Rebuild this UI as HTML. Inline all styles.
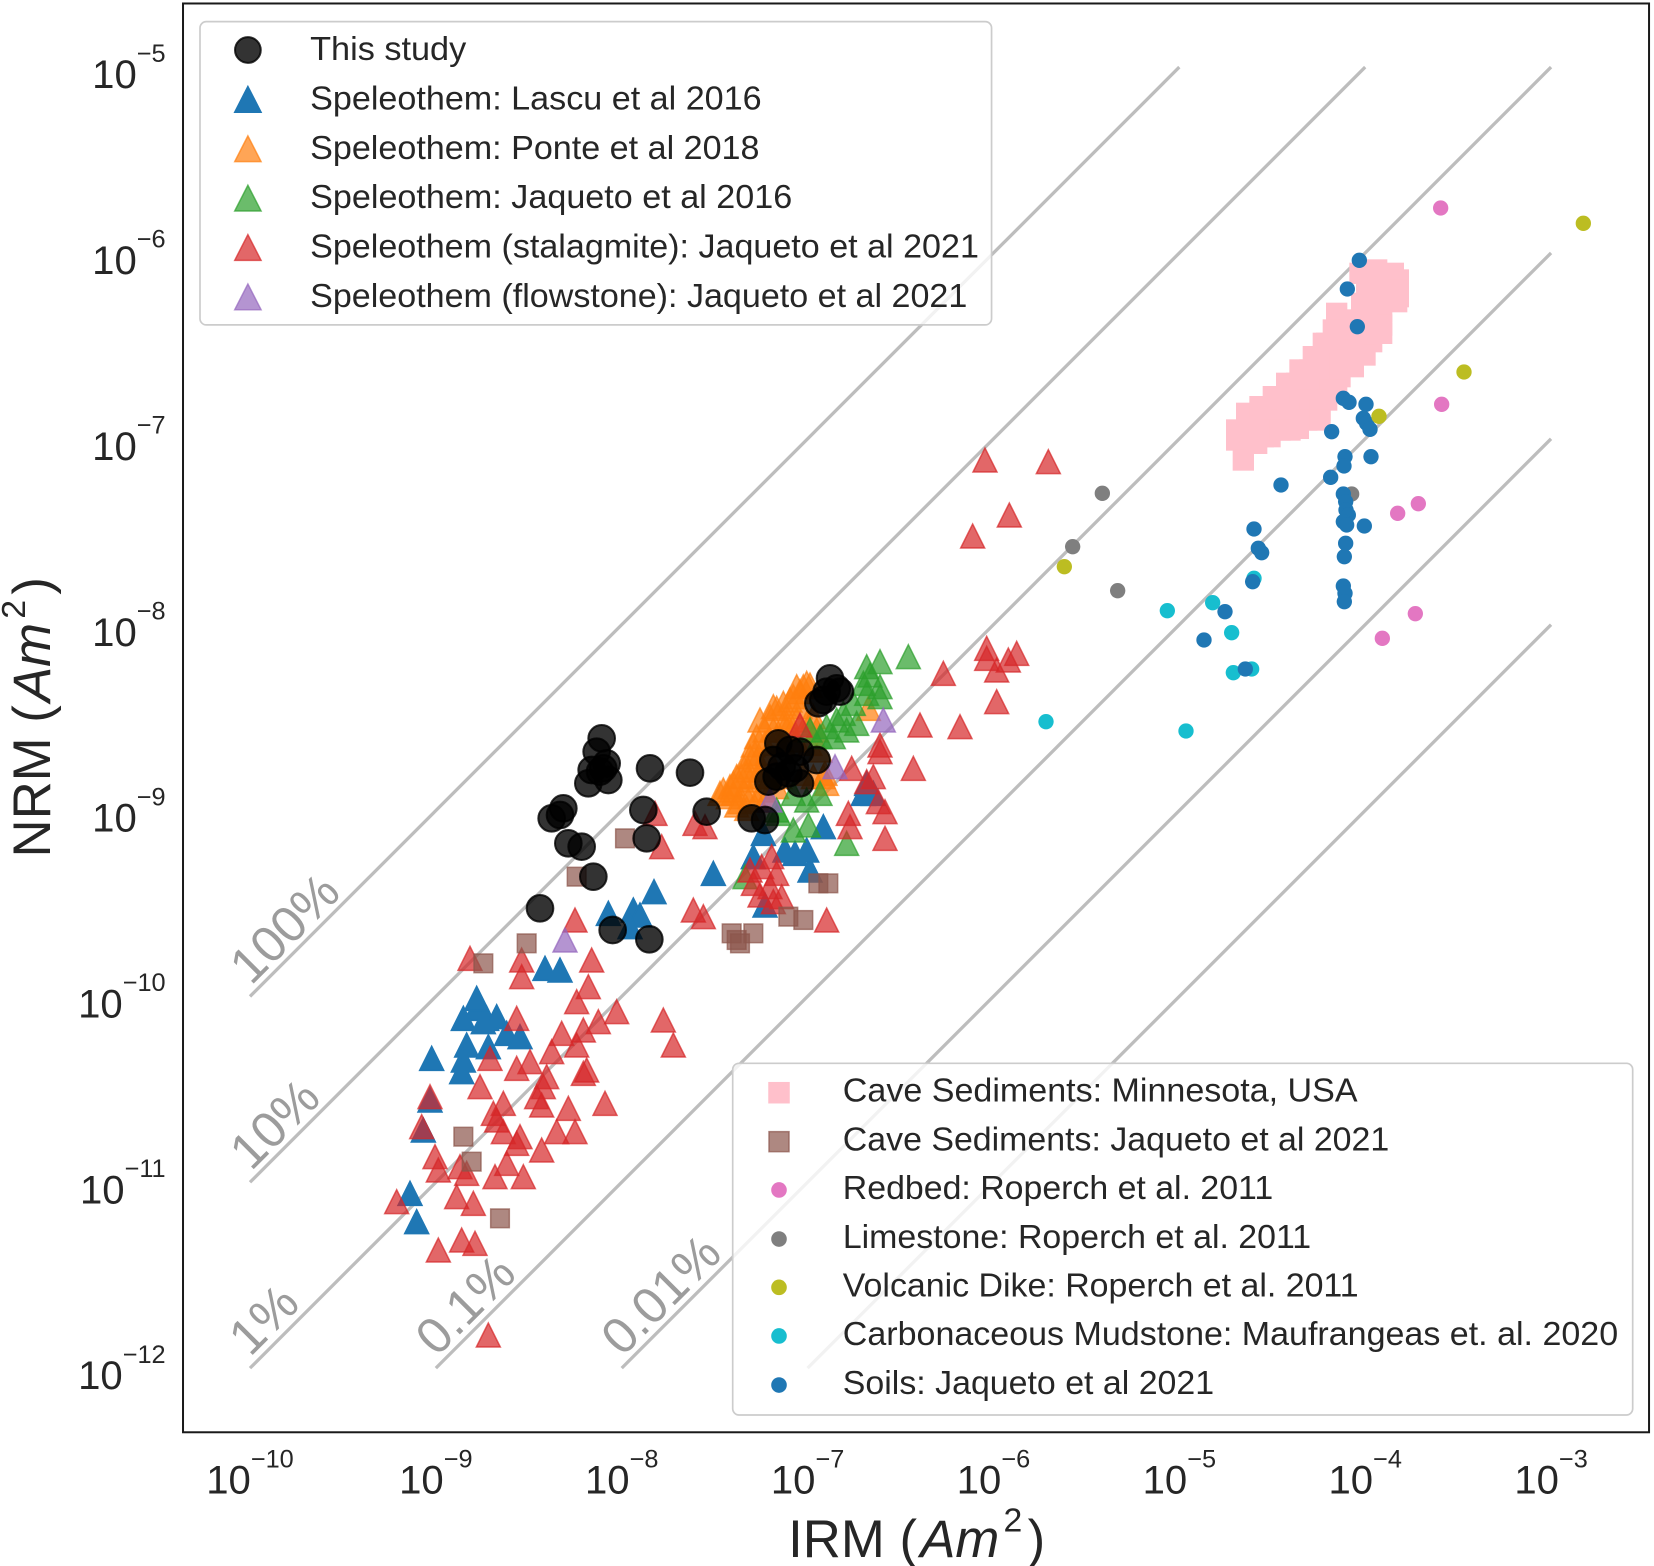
<!DOCTYPE html>
<html><head><meta charset="utf-8"><style>
html,body{margin:0;padding:0;background:#fff;}
svg{display:block;}
text{font-family:"Liberation Sans",Arial,sans-serif;fill:#262626;}
</style></head><body>
<svg width="1654" height="1566" viewBox="0 0 1654 1566" xmlns="http://www.w3.org/2000/svg">
<defs>
<path id="T" d="M0,-36L-36,36L36,36Z"/>
<circle id="C" r="40"/>
<rect id="S" x="-28" y="-28" width="56" height="56"/>
<rect id="P" x="-30" y="-30" width="60" height="60"/>
<circle id="D" r="23"/>
</defs>
<rect x="0" y="0" width="1654" height="1566" fill="#fff"/>

<g transform="scale(1.054847)">
<g stroke="#bdbdbd" stroke-width="3.1" fill="none">
<line x1="237" y1="944.6" x2="1118" y2="63.6"/>
<line x1="237" y1="1120.8" x2="1294.2" y2="63.6"/>
<line x1="237" y1="1297" x2="1470.4" y2="63.6"/>
<line x1="413.2" y1="1297" x2="1470.4" y2="239.8"/>
<line x1="589.4" y1="1297" x2="1470.4" y2="416"/>
<line x1="765.6" y1="1297" x2="1470.4" y2="592.2"/>
</g>
<g style="font-family:'Liberation Serif','DejaVu Serif',serif;font-size:48px;fill:#9c9c9c">
<text transform="translate(238,935) rotate(-45)" style="fill:#9c9c9c">100%</text>
<text transform="translate(238,1111) rotate(-45)" style="fill:#9c9c9c">10%</text>
<text transform="translate(237,1287) rotate(-45)" style="fill:#9c9c9c">1%</text>
<text transform="translate(414,1287) rotate(-45)" style="fill:#9c9c9c">0.1%</text>
<text transform="translate(590,1287) rotate(-45)" style="fill:#9c9c9c">0.01%</text>
</g>
</g>

<!-- Z4 group -->
<g transform="translate(370,980) scale(0.333333)">
<g fill="#1f77b4" stroke="#1f77b4" stroke-width="4.5">
<use href="#T" x="320" y="85"/><use href="#T" x="280" y="115"/><use href="#T" x="350" y="115"/><use href="#T" x="380" y="110"/><use href="#T" x="340" y="125"/><use href="#T" x="410" y="160"/><use href="#T" x="450" y="170"/><use href="#T" x="290" y="195"/><use href="#T" x="355" y="200"/><use href="#T" x="185" y="235"/><use href="#T" x="280" y="240"/><use href="#T" x="275" y="275"/><use href="#T" x="180" y="360"/><use href="#T" x="160" y="450"/><use href="#T" x="120" y="640"/><use href="#T" x="140" y="725"/>
</g>
<g fill="#d62728" stroke="#d62728" stroke-width="4.5" fill-opacity="0.7" stroke-opacity="0.7">
<use href="#T" x="620" y="65"/><use href="#T" x="740" y="95"/><use href="#T" x="685" y="125"/><use href="#T" x="880" y="120"/><use href="#T" x="910" y="195"/><use href="#T" x="440" y="115"/><use href="#T" x="575" y="160"/><use href="#T" x="640" y="150"/><use href="#T" x="620" y="195"/><use href="#T" x="545" y="215"/><use href="#T" x="360" y="235"/><use href="#T" x="480" y="245"/><use href="#T" x="440" y="265"/><use href="#T" x="530" y="290"/><use href="#T" x="640" y="280"/><use href="#T" x="650" y="270"/><use href="#T" x="330" y="320"/><use href="#T" x="520" y="320"/><use href="#T" x="500" y="350"/><use href="#T" x="515" y="375"/><use href="#T" x="595" y="385"/><use href="#T" x="705" y="370"/><use href="#T" x="180" y="350"/><use href="#T" x="155" y="440"/><use href="#T" x="400" y="370"/><use href="#T" x="370" y="400"/><use href="#T" x="380" y="420"/><use href="#T" x="560" y="455"/><use href="#T" x="615" y="455"/><use href="#T" x="400" y="455"/><use href="#T" x="450" y="470"/><use href="#T" x="440" y="490"/><use href="#T" x="515" y="510"/><use href="#T" x="195" y="530"/><use href="#T" x="205" y="570"/><use href="#T" x="270" y="560"/><use href="#T" x="290" y="580"/><use href="#T" x="410" y="550"/><use href="#T" x="375" y="590"/><use href="#T" x="460" y="590"/><use href="#T" x="260" y="650"/><use href="#T" x="310" y="670"/><use href="#T" x="80" y="665"/><use href="#T" x="275" y="780"/><use href="#T" x="315" y="790"/><use href="#T" x="205" y="810"/><use href="#T" x="355" y="1065"/>
</g>
<g fill="#8c564b" stroke="#8c564b" stroke-width="4.5" fill-opacity="0.7" stroke-opacity="0.7">
<use href="#S" x="280" y="470"/><use href="#S" x="305" y="545"/><use href="#S" x="390" y="715"/>
</g>
</g>

<!-- Z3 group -->
<g transform="translate(370,700) scale(0.333333)">
<g fill="#1f77b4" stroke="#1f77b4" stroke-width="4.5">
<use href="#T" x="852" y="575"/><use href="#T" x="715" y="640"/><use href="#T" x="790" y="630"/><use href="#T" x="810" y="645"/><use href="#T" x="780" y="680"/><use href="#T" x="525" y="805"/><use href="#T" x="570" y="810"/><use href="#T" x="320" y="895"/>
</g>
<g fill="#d62728" stroke="#d62728" stroke-width="4.5" fill-opacity="0.7" stroke-opacity="0.7">
<use href="#T" x="855" y="340"/><use href="#T" x="875" y="440"/><use href="#T" x="975" y="370"/><use href="#T" x="1005" y="380"/><use href="#T" x="970" y="630"/><use href="#T" x="1000" y="650"/><use href="#T" x="615" y="660"/><use href="#T" x="300" y="775"/><use href="#T" x="455" y="780"/><use href="#T" x="455" y="830"/><use href="#T" x="665" y="780"/><use href="#T" x="655" y="860"/>
</g>
<g fill="#9467bd" stroke="#9467bd" stroke-width="4.5" fill-opacity="0.7" stroke-opacity="0.7">
<use href="#T" x="585" y="720"/>
</g>
<g fill="#8c564b" stroke="#8c564b" stroke-width="4.5" fill-opacity="0.7" stroke-opacity="0.7">
<use href="#S" x="765" y="415"/><use href="#S" x="620" y="530"/><use href="#S" x="470" y="730"/><use href="#S" x="340" y="790"/>
</g>
</g>

<!-- Z5 group -->
<g transform="translate(700,620) scale(0.333333)">
<g fill="#1f77b4" stroke="#1f77b4" stroke-width="4.5">
<use href="#T" x="370" y="620"/><use href="#T" x="330" y="750"/><use href="#T" x="255" y="690"/><use href="#T" x="320" y="690"/><use href="#T" x="190" y="640"/><use href="#T" x="160" y="710"/><use href="#T" x="40" y="760"/><use href="#T" x="195" y="855"/><use href="#T" x="500" y="490"/><use href="#T" x="520" y="520"/><use href="#T" x="490" y="520"/><use href="#T" x="285" y="700"/>
</g>
<g fill="#ff7f0e" stroke="#ff7f0e" stroke-width="4.5" fill-opacity="0.7" stroke-opacity="0.7">
<use href="#T" x="310" y="200"/><use href="#T" x="330" y="195"/><use href="#T" x="300" y="215"/><use href="#T" x="270" y="240"/><use href="#T" x="230" y="265"/><use href="#T" x="210" y="290"/><use href="#T" x="260" y="290"/><use href="#T" x="300" y="260"/><use href="#T" x="340" y="290"/><use href="#T" x="505" y="265"/><use href="#T" x="220" y="330"/><use href="#T" x="260" y="330"/><use href="#T" x="160" y="375"/><use href="#T" x="150" y="410"/><use href="#T" x="130" y="440"/><use href="#T" x="110" y="470"/><use href="#T" x="90" y="500"/><use href="#T" x="70" y="510"/><use href="#T" x="100" y="520"/><use href="#T" x="130" y="510"/><use href="#T" x="150" y="480"/><use href="#T" x="180" y="450"/><use href="#T" x="170" y="420"/><use href="#T" x="200" y="400"/><use href="#T" x="250" y="370"/><use href="#T" x="290" y="360"/><use href="#T" x="330" y="370"/><use href="#T" x="370" y="470"/><use href="#T" x="360" y="390"/><use href="#T" x="120" y="545"/><use href="#T" x="150" y="530"/><use href="#T" x="190" y="510"/><use href="#T" x="175" y="470"/><use href="#T" x="210" y="470"/><use href="#T" x="240" y="470"/><use href="#T" x="60" y="520"/><use href="#T" x="85" y="530"/><use href="#T" x="110" y="555"/><use href="#T" x="140" y="565"/><use href="#T" x="170" y="540"/><use href="#T" x="200" y="530"/><use href="#T" x="230" y="500"/><use href="#T" x="100" y="490"/><use href="#T" x="125" y="470"/><use href="#T" x="145" y="450"/><use href="#T" x="165" y="400"/><use href="#T" x="195" y="370"/><use href="#T" x="230" y="350"/><use href="#T" x="260" y="310"/><use href="#T" x="290" y="300"/><use href="#T" x="320" y="310"/><use href="#T" x="350" y="330"/><use href="#T" x="375" y="460"/><use href="#T" x="380" y="490"/><use href="#T" x="310" y="460"/><use href="#T" x="340" y="470"/><use href="#T" x="220" y="260"/><use href="#T" x="250" y="250"/><use href="#T" x="280" y="230"/><use href="#T" x="290" y="200"/><use href="#T" x="320" y="190"/><use href="#T" x="180" y="300"/><use href="#T" x="195" y="330"/><use href="#T" x="170" y="350"/>
</g>
<g fill="#2ca02c" stroke="#2ca02c" stroke-width="4.5" fill-opacity="0.7" stroke-opacity="0.7">
<use href="#T" x="625" y="110"/><use href="#T" x="540" y="125"/><use href="#T" x="500" y="140"/><use href="#T" x="510" y="165"/><use href="#T" x="540" y="200"/><use href="#T" x="490" y="190"/><use href="#T" x="540" y="230"/><use href="#T" x="500" y="220"/><use href="#T" x="460" y="250"/><use href="#T" x="430" y="280"/><use href="#T" x="470" y="310"/><use href="#T" x="410" y="300"/><use href="#T" x="380" y="320"/><use href="#T" x="440" y="330"/><use href="#T" x="360" y="350"/><use href="#T" x="330" y="330"/><use href="#T" x="400" y="350"/><use href="#T" x="360" y="520"/><use href="#T" x="320" y="540"/><use href="#T" x="280" y="520"/><use href="#T" x="230" y="570"/><use href="#T" x="325" y="615"/><use href="#T" x="280" y="630"/><use href="#T" x="440" y="670"/><use href="#T" x="135" y="770"/><use href="#T" x="235" y="580"/>
</g>
<g fill="#d62728" stroke="#d62728" stroke-width="4.5" fill-opacity="0.7" stroke-opacity="0.7">
<use href="#T" x="860" y="85"/><use href="#T" x="950" y="100"/><use href="#T" x="925" y="120"/><use href="#T" x="860" y="115"/><use href="#T" x="890" y="150"/><use href="#T" x="890" y="245"/><use href="#T" x="730" y="160"/><use href="#T" x="660" y="315"/><use href="#T" x="780" y="320"/><use href="#T" x="540" y="375"/><use href="#T" x="540" y="395"/><use href="#T" x="640" y="445"/><use href="#T" x="455" y="445"/><use href="#T" x="520" y="470"/><use href="#T" x="500" y="485"/><use href="#T" x="535" y="545"/><use href="#T" x="555" y="575"/><use href="#T" x="445" y="580"/><use href="#T" x="450" y="620"/><use href="#T" x="555" y="655"/><use href="#T" x="300" y="315"/><use href="#T" x="215" y="710"/><use href="#T" x="185" y="740"/><use href="#T" x="230" y="760"/><use href="#T" x="150" y="750"/><use href="#T" x="160" y="790"/><use href="#T" x="210" y="800"/><use href="#T" x="180" y="825"/><use href="#T" x="245" y="830"/><use href="#T" x="220" y="845"/><use href="#T" x="380" y="900"/>
</g>
<g fill="#9467bd" stroke="#9467bd" stroke-width="4.5" fill-opacity="0.7" stroke-opacity="0.7">
<use href="#T" x="550" y="300"/><use href="#T" x="405" y="440"/><use href="#T" x="210" y="540"/>
</g>
<g fill="#8c564b" stroke="#8c564b" stroke-width="4.5" fill-opacity="0.7" stroke-opacity="0.7">
<use href="#S" x="355" y="790"/><use href="#S" x="385" y="790"/><use href="#S" x="265" y="890"/><use href="#S" x="310" y="900"/><use href="#S" x="95" y="940"/><use href="#S" x="160" y="940"/><use href="#S" x="120" y="970"/><use href="#S" x="110" y="960"/>
</g>
<g fill="#17becf"><use href="#D" x="1038" y="305"/></g>
</g>

<!-- Z9 group -->
<g transform="translate(950,430) scale(0.333333)">
<g fill="#d62728" stroke="#d62728" stroke-width="4.5" fill-opacity="0.7" stroke-opacity="0.7">
<use href="#T" x="105" y="90"/><use href="#T" x="295" y="95"/><use href="#T" x="178" y="255"/><use href="#T" x="68" y="318"/>
</g>
<g fill="#7f7f7f"><use href="#D" x="457" y="190"/><use href="#D" x="368" y="350"/><use href="#D" x="503" y="482"/></g>
<g fill="#bcbd22"><use href="#D" x="343" y="410"/></g>
<g fill="#17becf"><use href="#D" x="652" y="542"/><use href="#D" x="708" y="903"/><use href="#D" x="850" y="728"/><use href="#D" x="905" y="717"/></g>
<g fill="#1f77b4"><use href="#D" x="886" y="717"/></g>
</g>

<!-- Z6 group -->
<g transform="translate(1180,190) scale(0.333333)">
<g fill="#ffc0cb" stroke="#ffc0cb" stroke-width="4">
<use href="#P" x="560" y="260"/><use href="#P" x="600" y="260"/><use href="#P" x="650" y="280"/><use href="#P" x="655" y="320"/><use href="#P" x="610" y="300"/><use href="#P" x="560" y="300"/><use href="#P" x="600" y="340"/><use href="#P" x="545" y="340"/><use href="#P" x="470" y="370"/><use href="#P" x="500" y="400"/><use href="#P" x="460" y="420"/><use href="#P" x="600" y="420"/><use href="#P" x="560" y="420"/><use href="#P" x="520" y="440"/><use href="#P" x="430" y="460"/><use href="#P" x="480" y="470"/><use href="#P" x="540" y="470"/><use href="#P" x="420" y="500"/><use href="#P" x="460" y="520"/><use href="#P" x="500" y="510"/><use href="#P" x="390" y="540"/><use href="#P" x="440" y="560"/><use href="#P" x="480" y="560"/><use href="#P" x="350" y="580"/><use href="#P" x="400" y="590"/><use href="#P" x="450" y="600"/><use href="#P" x="310" y="620"/><use href="#P" x="360" y="630"/><use href="#P" x="410" y="640"/><use href="#P" x="290" y="660"/><use href="#P" x="340" y="670"/><use href="#P" x="390" y="670"/><use href="#P" x="260" y="690"/><use href="#P" x="310" y="700"/><use href="#P" x="350" y="710"/><use href="#P" x="240" y="720"/><use href="#P" x="210" y="700"/><use href="#P" x="270" y="740"/><use href="#P" x="170" y="750"/><use href="#P" x="210" y="730"/><use href="#P" x="250" y="740"/><use href="#P" x="190" y="810"/><use href="#P" x="330" y="720"/><use href="#P" x="380" y="690"/><use href="#P" x="420" y="660"/><use href="#P" x="440" y="630"/><use href="#P" x="600" y="380"/><use href="#P" x="640" y="250"/>
<use href="#P" x="540" y="250"/><use href="#P" x="655" y="270"/><use href="#P" x="655" y="300"/><use href="#P" x="650" y="335"/><use href="#P" x="605" y="365"/><use href="#P" x="605" y="405"/><use href="#P" x="605" y="430"/><use href="#P" x="575" y="455"/><use href="#P" x="555" y="495"/><use href="#P" x="520" y="530"/><use href="#P" x="470" y="600"/><use href="#P" x="420" y="690"/><use href="#P" x="355" y="715"/><use href="#P" x="300" y="720"/><use href="#P" x="230" y="760"/><use href="#P" x="170" y="720"/><use href="#P" x="200" y="670"/><use href="#P" x="240" y="650"/><use href="#P" x="280" y="620"/><use href="#P" x="320" y="580"/><use href="#P" x="360" y="540"/><use href="#P" x="400" y="500"/><use href="#P" x="440" y="460"/><use href="#P" x="490" y="430"/><use href="#P" x="520" y="390"/><use href="#P" x="590" y="240"/><use href="#P" x="560" y="380"/><use href="#P" x="520" y="480"/><use href="#P" x="480" y="520"/>
</g>
<g fill="#7f7f7f"><use href="#D" x="515" y="912"/></g>
<g fill="#17becf"><use href="#D" x="222" y="1165"/><use href="#D" x="98" y="1238"/><use href="#D" x="155" y="1328"/></g>
<g fill="#1f77b4">
<use href="#D" x="538" y="211"/><use href="#D" x="502" y="297"/><use href="#D" x="532" y="410"/><use href="#D" x="490" y="625"/><use href="#D" x="507" y="637"/><use href="#D" x="558" y="643"/><use href="#D" x="550" y="685"/><use href="#D" x="560" y="700"/><use href="#D" x="570" y="718"/><use href="#D" x="455" y="725"/><use href="#D" x="495" y="800"/><use href="#D" x="492" y="828"/><use href="#D" x="573" y="800"/><use href="#D" x="452" y="862"/><use href="#D" x="303" y="885"/><use href="#D" x="490" y="912"/><use href="#D" x="497" y="935"/><use href="#D" x="498" y="960"/><use href="#D" x="505" y="975"/><use href="#D" x="490" y="995"/><use href="#D" x="500" y="1005"/><use href="#D" x="553" y="1008"/><use href="#D" x="497" y="1060"/><use href="#D" x="493" y="1100"/><use href="#D" x="222" y="1017"/><use href="#D" x="235" y="1075"/><use href="#D" x="245" y="1088"/><use href="#D" x="218" y="1175"/><use href="#D" x="490" y="1188"/><use href="#D" x="495" y="1210"/><use href="#D" x="493" y="1235"/><use href="#D" x="135" y="1265"/><use href="#D" x="72" y="1350"/>
</g>
<g fill="#e377c2"><use href="#D" x="782" y="54"/><use href="#D" x="785" y="643"/><use href="#D" x="715" y="941"/><use href="#D" x="653" y="970"/><use href="#D" x="706" y="1271"/><use href="#D" x="607" y="1345"/></g>
<g fill="#bcbd22"><use href="#D" x="1210" y="100"/><use href="#D" x="852" y="546"/><use href="#D" x="597" y="679"/></g>
</g>

<!-- black circles on top -->
<g transform="translate(370,700) scale(0.333333)" fill="#000" fill-opacity="0.8" stroke="#000" stroke-opacity="0.8" stroke-width="6">
<use href="#C" x="695" y="115"/><use href="#C" x="680" y="155"/><use href="#C" x="710" y="190"/><use href="#C" x="665" y="210"/><use href="#C" x="690" y="215"/><use href="#C" x="655" y="250"/><use href="#C" x="715" y="240"/><use href="#C" x="700" y="205"/><use href="#C" x="840" y="205"/><use href="#C" x="960" y="218"/><use href="#C" x="580" y="325"/><use href="#C" x="545" y="355"/><use href="#C" x="570" y="345"/><use href="#C" x="820" y="330"/><use href="#C" x="1010" y="335"/><use href="#C" x="595" y="430"/><use href="#C" x="635" y="440"/><use href="#C" x="830" y="415"/><use href="#C" x="670" y="530"/><use href="#C" x="510" y="625"/><use href="#C" x="728" y="690"/><use href="#C" x="838" y="718"/>
</g>
<g transform="translate(700,620) scale(0.333333)" fill="#000" fill-opacity="0.8" stroke="#000" stroke-opacity="0.8" stroke-width="6">
<use href="#C" x="390" y="175"/><use href="#C" x="410" y="205"/><use href="#C" x="380" y="215"/><use href="#C" x="420" y="215"/><use href="#C" x="355" y="250"/><use href="#C" x="370" y="240"/><use href="#C" x="235" y="370"/><use href="#C" x="270" y="390"/><use href="#C" x="300" y="395"/><use href="#C" x="350" y="420"/><use href="#C" x="220" y="420"/><use href="#C" x="245" y="440"/><use href="#C" x="285" y="445"/><use href="#C" x="205" y="485"/><use href="#C" x="230" y="470"/><use href="#C" x="300" y="490"/><use href="#C" x="265" y="460"/><use href="#C" x="155" y="595"/><use href="#C" x="195" y="600"/>
</g>

<g transform="scale(1.054847)">
<rect x="173.5" y="3.3" width="1389.8" height="1354.5" fill="none" stroke="#1a1a1a" stroke-width="1.9"/>

<g font-size="38">
<text x="237" y="1416" text-anchor="middle">10<tspan dy="-25" font-size="24">−10</tspan></text>
<text x="413.2" y="1416" text-anchor="middle">10<tspan dy="-25" font-size="24">−9</tspan></text>
<text x="589.4" y="1416" text-anchor="middle">10<tspan dy="-25" font-size="24">−8</tspan></text>
<text x="765.6" y="1416" text-anchor="middle">10<tspan dy="-25" font-size="24">−7</tspan></text>
<text x="941.8" y="1416" text-anchor="middle">10<tspan dy="-25" font-size="24">−6</tspan></text>
<text x="1118" y="1416" text-anchor="middle">10<tspan dy="-25" font-size="24">−5</tspan></text>
<text x="1294.2" y="1416" text-anchor="middle">10<tspan dy="-25" font-size="24">−4</tspan></text>
<text x="1470.4" y="1416" text-anchor="middle">10<tspan dy="-25" font-size="24">−3</tspan></text>

<text x="157" y="83.6" text-anchor="end">10<tspan dy="-25" font-size="24">−5</tspan></text>
<text x="157" y="259.8" text-anchor="end">10<tspan dy="-25" font-size="24">−6</tspan></text>
<text x="157" y="436" text-anchor="end">10<tspan dy="-25" font-size="24">−7</tspan></text>
<text x="157" y="612.2" text-anchor="end">10<tspan dy="-25" font-size="24">−8</tspan></text>
<text x="157" y="788.4" text-anchor="end">10<tspan dy="-25" font-size="24">−9</tspan></text>
<text x="157" y="964.6" text-anchor="end">10<tspan dy="-25" font-size="24">−10</tspan></text>
<text x="157" y="1140.8" text-anchor="end">10<tspan dy="-25" font-size="24">−11</tspan></text>
<text x="157" y="1317" text-anchor="end">10<tspan dy="-25" font-size="24">−12</tspan></text>
</g>

<text x="869" y="1476" text-anchor="middle" font-size="50">IRM (<tspan font-style="italic" dx="3">Am</tspan><tspan dy="-24" dx="4" font-size="32">2</tspan><tspan dy="24" dx="5">)</tspan></text>
<text transform="translate(47.5,680) rotate(-90)" text-anchor="middle" font-size="50">NRM (<tspan font-style="italic" dx="3">Am</tspan><tspan dy="-24" dx="4" font-size="32">2</tspan><tspan dy="24" dx="5">)</tspan></text>

<rect x="189.6" y="20.5" width="750.4" height="287.5" rx="6" fill="#fff" fill-opacity="0.8" stroke="#cccccc" stroke-width="1.6"/>
<circle cx="235" cy="47.4" r="12.2" fill="#000" fill-opacity="0.8" stroke="#000" stroke-opacity="0.8" stroke-width="1.9"/>
<path d="M235,82L222.5,106.4L247.5,106.4Z" fill="#1f77b4" stroke="#1f77b4" stroke-width="1.4"/>
<path d="M235,128.8L222.5,153.2L247.5,153.2Z" fill="#ff7f0e" fill-opacity="0.7" stroke="#ff7f0e" stroke-opacity="0.7" stroke-width="1.4"/>
<path d="M235,175.6L222.5,200L247.5,200Z" fill="#2ca02c" fill-opacity="0.7" stroke="#2ca02c" stroke-opacity="0.7" stroke-width="1.4"/>
<path d="M235,222.4L222.5,246.8L247.5,246.8Z" fill="#d62728" fill-opacity="0.7" stroke="#d62728" stroke-opacity="0.7" stroke-width="1.4"/>
<path d="M235,269.2L222.5,293.6L247.5,293.6Z" fill="#9467bd" fill-opacity="0.7" stroke="#9467bd" stroke-opacity="0.7" stroke-width="1.4"/>
<g font-size="32">
<text x="294" y="57" textLength="148" lengthAdjust="spacingAndGlyphs">This study</text>
<text x="294" y="103.8" textLength="428" lengthAdjust="spacingAndGlyphs">Speleothem: Lascu et al 2016</text>
<text x="294" y="150.6" textLength="426" lengthAdjust="spacingAndGlyphs">Speleothem: Ponte et al 2018</text>
<text x="294" y="197.4" textLength="457" lengthAdjust="spacingAndGlyphs">Speleothem: Jaqueto et al 2016</text>
<text x="294" y="244.2" textLength="634" lengthAdjust="spacingAndGlyphs">Speleothem (stalagmite): Jaqueto et al 2021</text>
<text x="294" y="291" textLength="623" lengthAdjust="spacingAndGlyphs">Speleothem (flowstone): Jaqueto et al 2021</text>
</g>

<rect x="694.6" y="1008" width="853.2" height="333.4" rx="6" fill="#fff" fill-opacity="0.8" stroke="#cccccc" stroke-width="1.6"/>
<rect x="728.3" y="1025.7" width="20.4" height="20.4" fill="#ffc0cb"/>
<rect x="729" y="1072.8" width="19" height="19" fill="#8c564b" fill-opacity="0.7" stroke="#8c564b" stroke-opacity="0.7" stroke-width="1.4"/>
<circle cx="738.5" cy="1128.1" r="7.4" fill="#e377c2"/>
<circle cx="738.5" cy="1174.6" r="7.4" fill="#7f7f7f"/>
<circle cx="738.5" cy="1220.4" r="7.4" fill="#bcbd22"/>
<circle cx="738.5" cy="1266.5" r="7.4" fill="#17becf"/>
<circle cx="738.5" cy="1313" r="7.4" fill="#1f77b4"/>
<g font-size="32">
<text x="799" y="1044.4" textLength="488" lengthAdjust="spacingAndGlyphs">Cave Sediments: Minnesota, USA</text>
<text x="799" y="1090.8" textLength="518" lengthAdjust="spacingAndGlyphs">Cave Sediments: Jaqueto et al 2021</text>
<text x="799" y="1136.6" textLength="408" lengthAdjust="spacingAndGlyphs">Redbed: Roperch et al. 2011</text>
<text x="799" y="1183.1" textLength="444" lengthAdjust="spacingAndGlyphs">Limestone: Roperch et al. 2011</text>
<text x="799" y="1228.9" textLength="489" lengthAdjust="spacingAndGlyphs">Volcanic Dike: Roperch et al. 2011</text>
<text x="799" y="1275" textLength="735" lengthAdjust="spacingAndGlyphs">Carbonaceous Mudstone: Maufrangeas et. al. 2020</text>
<text x="799" y="1321.5" textLength="352" lengthAdjust="spacingAndGlyphs">Soils: Jaqueto et al 2021</text>
</g>
</g>
</svg>
</body></html>
